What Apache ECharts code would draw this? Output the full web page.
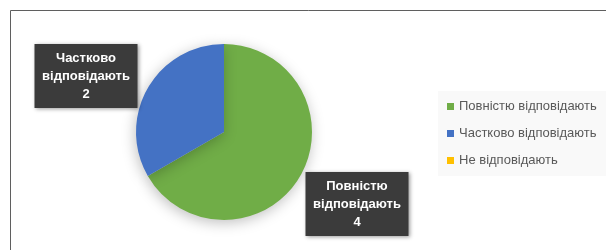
<!DOCTYPE html>
<html>
<head>
<meta charset="utf-8">
<script src="https://cdn.jsdelivr.net/npm/echarts@6/dist/echarts.min.js"></script>
<style>
  html, body { margin: 0; padding: 0; background: #fff; }
  #pieChart { width: 606px; height: 250px; }
</style>
</head>
<body>
<div id="pieChart"></div>
<script>
// категорії та значення
const categories = ['Повністю відповідають', 'Частково відповідають', 'Не відповідають']
const values = [4, 2, 0]
const colors = ['#70AD47', '#4472C4', '#FFC000']

// центри підписів (тільки для розміщення тексту)
const labelSpots = [[357, 204], [86, 76]]

const chart = echarts.init(document.getElementById('pieChart'))

chart.setOption({
  animation: false,
  textStyle: { fontFamily: 'Liberation Sans' },
  graphic: [
    {
      type: 'rect',
      shape: { x: 10.5, y: 10.5, width: 700, height: 400 },
      style: { fill: 'none', stroke: '#5f5f5f', lineWidth: 1 }
    }
  ],
  legend: {
    orient: 'vertical',
    left: 438,
    top: 91,
    padding: [9, 20, 9, 9],
    backgroundColor: '#f9f9f9',
    itemWidth: 7,
    itemHeight: 7,
    itemGap: 14,
    itemTextGap: 4,
    icon: 'rect',
    data: categories,
    textStyle: { color: '#595959', fontSize: 13 }
  },
  series: [
    {
      type: 'pie',
      center: [224, 132],
      radius: 88,
      startAngle: 90,
      clockwise: true,
      avoidLabelOverlap: false,
      itemStyle: {
        shadowBlur: 14,
        shadowColor: 'rgba(0,0,0,0.25)',
        shadowOffsetX: -1,
        shadowOffsetY: 3
      },
      label: {
        show: true,
        formatter: (p) => p.name.replace(' ', '\n') + '\n' + p.value,
        color: '#ffffff',
        fontWeight: 'bold',
        fontSize: 13,
        lineHeight: 18,
        align: 'center',
        width: 89,
        padding: [5, 7],
        backgroundColor: '#3b3b3b',
        shadowBlur: 4,
        shadowColor: 'rgba(0,0,0,0.4)',
        shadowOffsetX: 1,
        shadowOffsetY: 1
      },
      labelLine: { show: false },
      labelLayout: (params) => {
        const spot = labelSpots[params.dataIndex]
        if (!spot) return {}
        return { x: spot[0], y: spot[1], align: 'center', verticalAlign: 'middle' }
      },
      data: categories.map((name, i) => ({
        name: name,
        value: values[i],
        label: { show: values[i] > 0 },
        itemStyle: { color: colors[i] }
      }))
    }
  ]
})
</script>
</body>
</html>
